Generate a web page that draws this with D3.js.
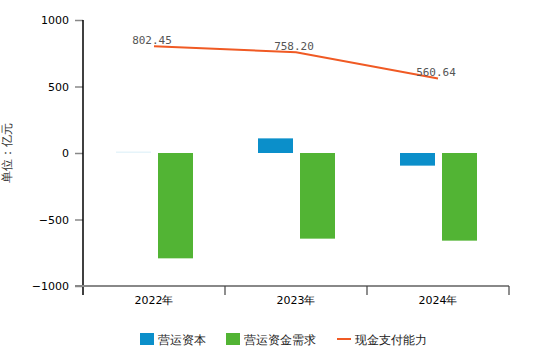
<!DOCTYPE html>
<html><head><meta charset="utf-8">
<script src="https://cdn.jsdelivr.net/npm/d3@7"></script>
<style>body{margin:0;background:#fff}svg{display:block}</style>
</head><body><svg id="c" width="560" height="346"></svg>
<script>
const categories = ["2022年", "2023年", "2024年"];
const workingCapital = [2, 110, -95];
const workingCapitalDemand = [-792, -644, -659];
const cashPayAbility = [802.45, 758.20, 560.64];
const yTicks = [1000, 500, 0, -500, -1000];
const seriesNames = ["营运资本", "营运资金需求", "现金支付能力"];
const colors = ["#0b8fca", "#52b434", "#f05a24"];

const svg = d3.select("#c");
const pLeft = 83, pRight = 509, pTop = 20, pBottom = 286;
const x = d3.scaleBand().domain(categories).range([pLeft, pRight]);
const y = d3.scaleLinear().domain([-1000, 1000]).range([pBottom, pTop]);
const font = "'DejaVu Sans', sans-serif";

// y axis
const ya = svg.append("g").attr("transform", `translate(${pLeft},0)`)
  .call(d3.axisLeft(y).tickValues(yTicks).tickFormat(d => String(d).replace("-", "\u2212")).tickSize(8).tickPadding(6));
ya.select(".domain").remove();
ya.selectAll(".tick line").attr("stroke", "#888").attr("stroke-width", 1.5);
ya.selectAll(".tick text").attr("font-family", font).attr("font-size", 11).attr("fill", "#000");
svg.append("line").attr("x1", pLeft).attr("x2", pLeft).attr("y1", pTop).attr("y2", pBottom + 9)
  .attr("stroke", "#000").attr("stroke-width", 1.5);

// x axis
svg.append("line").attr("x1", pLeft - 8).attr("x2", pRight).attr("y1", pBottom).attr("y2", pBottom)
  .attr("stroke", "#888").attr("stroke-width", 2);
const xa = svg.append("g").attr("transform", `translate(0,${pBottom})`)
  .call(d3.axisBottom(x).tickSize(0).tickPadding(10));
xa.select(".domain").remove();
xa.selectAll(".tick text").attr("font-family", font).attr("font-size", 11).attr("fill", "#000");
categories.forEach(c => {
  svg.append("line").attr("x1", x(c) + x.bandwidth()).attr("x2", x(c) + x.bandwidth())
    .attr("y1", pBottom).attr("y2", pBottom + 9).attr("stroke", "#444").attr("stroke-width", 1.2);
});

// bars
const bw = 35;
function bars(data, offset, color) {
  svg.append("g").selectAll("rect").data(data).enter().append("rect")
    .attr("x", (d, i) => x(categories[i]) + offset)
    .attr("width", bw)
    .attr("y", d => Math.abs(d) < 5 ? y(0) - 1.5 : y(Math.max(0, d)))
    .attr("height", d => Math.abs(d) < 5 ? 1.5 : Math.abs(y(d) - y(0)))
    .attr("fill", color)
    .attr("fill-opacity", d => Math.abs(d) < 5 ? 0.1 : 1);
}
bars(workingCapital, 33, colors[0]);
bars(workingCapitalDemand, 75, colors[1]);

// line
const cx = c => x(c) + x.bandwidth() / 2;
svg.append("path").datum(cashPayAbility)
  .attr("d", d3.line().x((d, i) => cx(categories[i])).y(d => y(d)))
  .attr("fill", "none").attr("stroke", colors[2]).attr("stroke-width", 2);
svg.append("g").selectAll("text").data(cashPayAbility).enter().append("text")
  .attr("x", (d, i) => cx(categories[i]) - 2).attr("y", d => y(d) - 2)
  .attr("text-anchor", "middle").attr("font-family", "'DejaVu Sans Mono', monospace")
  .attr("font-size", 11).attr("fill", "#555").text(d => d.toFixed(2));

// y title
svg.append("text").attr("transform", "translate(11,153) rotate(-90)")
  .attr("text-anchor", "middle").attr("font-family", font).attr("font-size", 12)
  .attr("fill", "#333").text("单位：亿元");

// legend
const lg = svg.append("g").attr("font-family", font).attr("font-size", 12).attr("fill", "#222");
const lx = [140, 226, 337];
seriesNames.forEach((n, i) => {
  if (i < 2) lg.append("rect").attr("x", lx[i]).attr("y", 333).attr("width", 14).attr("height", 12).attr("fill", colors[i]);
  else lg.append("line").attr("x1", lx[i]).attr("x2", lx[i] + 14).attr("y1", 339).attr("y2", 339).attr("stroke", colors[i]).attr("stroke-width", 2);
  lg.append("text").attr("x", lx[i] + 18).attr("y", 343.5).text(n);
});
</script></body></html>
